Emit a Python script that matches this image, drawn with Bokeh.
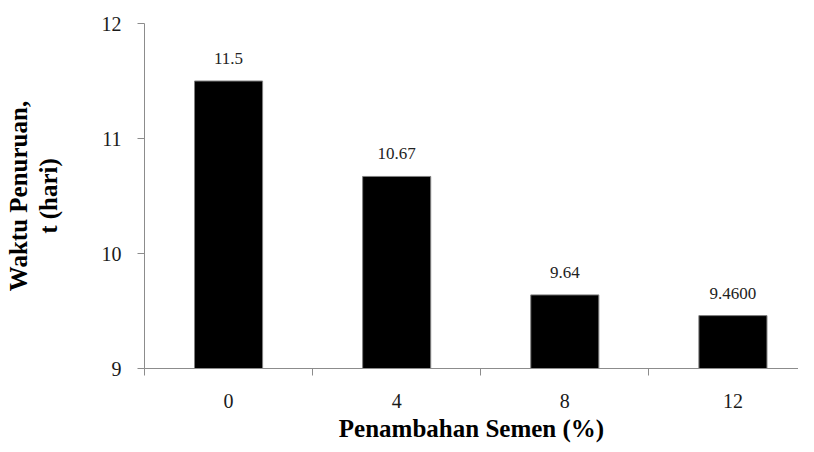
from bokeh.plotting import figure
from bokeh.models import (ColumnDataSource, FixedTicker, LinearAxis, LabelSet, Range1d)
from bokeh.embed import file_html
from bokeh.resources import INLINE

categories = ["0", "4", "8", "12"]
values = [11.5, 10.67, 9.64, 9.46]
value_labels = ["11.5", "10.67", "9.64", "9.4600"]
y_ticks = [9, 10, 11, 12]

xpos = [i + 0.5 for i in range(len(categories))]
bounds = [i for i in range(len(categories) + 1)]

src = ColumnDataSource(dict(x=xpos, top=values, lab=value_labels))

p = figure(width=798, height=444, output_backend="svg", toolbar_location=None,
           x_range=Range1d(0, 3.89), y_range=Range1d(9, 12),
           min_border_left=144, min_border_top=23, min_border_bottom=75,
           min_border_right=0, outline_line_color=None,
           background_fill_color="white", border_fill_color="white")

p.vbar(x="x", top="top", bottom=9, width=0.405, source=src,
       fill_color="black", line_color="#808080", line_width=1)

p.add_layout(LabelSet(x="x", y="top", text="lab", source=src,
                      text_align="center", text_baseline="bottom", y_offset=17,
                      text_font="Liberation Sans", text_font_size="17px",
                      text_color="#222222"))

p.xgrid.visible = False
p.ygrid.visible = False

gray = "#8c8c8c"

# x axis
xa = p.xaxis[0]
xa.ticker = FixedTicker(ticks=xpos, minor_ticks=bounds)
xa.major_label_overrides = {x: c for x, c in zip(xpos, categories)}
xa.major_tick_out = 0
xa.major_tick_in = 0
xa.minor_tick_out = 7
xa.minor_tick_in = 0
xa.minor_tick_line_color = gray
xa.axis_line_color = gray
xa.major_label_standoff = 18
xa.major_label_text_font = "Liberation Serif"
xa.major_label_text_font_size = "20px"
xa.major_label_text_color = "#1a1a1a"
xa.axis_label = "Penambahan Semen (%)"
xa.axis_label_text_font = "Liberation Serif"
xa.axis_label_text_font_style = "bold"
xa.axis_label_text_font_size = "25px"
xa.axis_label_text_color = "black"
xa.axis_label_standoff = 4

# y axis (inner)
ya = p.yaxis[0]
ya.ticker = FixedTicker(ticks=y_ticks, minor_ticks=[])
ya.major_tick_out = 7
ya.major_tick_in = 0
ya.major_tick_line_color = gray
ya.axis_line_color = gray
ya.major_label_standoff = 16
ya.major_label_text_font = "Liberation Serif"
ya.major_label_text_font_size = "20px"
ya.major_label_text_color = "#1a1a1a"
ya.axis_label = "t (hari)"
ya.axis_label_text_font = "Liberation Serif"
ya.axis_label_text_font_style = "bold"
ya.axis_label_text_font_size = "25px"
ya.axis_label_text_color = "black"
ya.axis_label_standoff = 37

# outer y axis carrying first line of title
ya2 = LinearAxis(ticker=FixedTicker(ticks=[], minor_ticks=[]),
                 axis_line_color=None, major_tick_line_color=None,
                 minor_tick_line_color=None, major_label_standoff=0,
                 major_tick_out=0, major_tick_in=0, minor_tick_out=0,
                 axis_label="Waktu Penuruan,", axis_label_standoff=0,
                 axis_label_text_font="Liberation Serif",
                 axis_label_text_font_style="bold",
                 axis_label_text_font_size="25px",
                 axis_label_text_color="black")
p.add_layout(ya2, "left")

open("out.html", "w").write(file_html(p, INLINE))
